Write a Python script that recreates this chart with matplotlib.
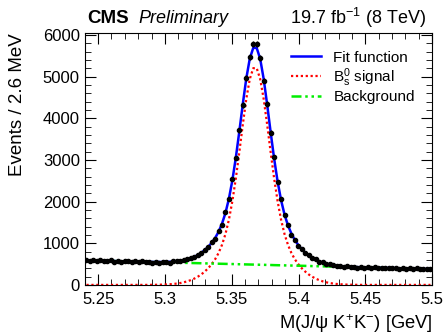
import numpy as np
import matplotlib
matplotlib.use("Agg")
import matplotlib.pyplot as plt
from matplotlib.ticker import MultipleLocator

plt.rcParams['font.family'] = ['Liberation Sans', 'DejaVu Sans']
plt.rcParams['mathtext.fontset'] = 'custom'
plt.rcParams['mathtext.rm'] = 'Liberation Sans'
plt.rcParams['mathtext.it'] = 'Liberation Sans:italic'

# binning: 100 bins of 2.6 MeV between 5.24 and 5.50 GeV
m_lo, m_hi, nbins = 5.24, 5.50, 100
centers = m_lo + (m_hi - m_lo) / nbins * (np.arange(nbins) + 0.5)

# events per bin
counts = [602, 575, 590, 571, 596, 580, 565, 588, 560, 579,
          555, 574, 583, 548, 566, 541, 569, 545, 560, 538,
          556, 534, 560, 548, 520, 571, 585, 570, 610, 628,
          655, 662, 730, 760, 850, 905, 1020, 1110, 1290, 1450,
          1740, 2060, 2540, 3050, 3710, 4320, 4980, 5470, 5790, 5780,
          5460, 4910, 4350, 3660, 3070, 2470, 2060, 1680, 1440, 1210,
          1090, 940, 870, 760, 715, 640, 612, 548, 540, 495,
          498, 480, 455, 462, 438, 449, 425, 440, 418, 431,
          410, 428, 405, 420, 402, 415, 398, 412, 395, 408,
          392, 405, 386, 399, 384, 396, 380, 392, 376, 388]

# Bs signal component
signal = [0, 0, 0, 0, 0, 0, 0, 0, 0, 0,
          0, 0, 0, 0, 0, 0, 0, 0, 1, 2,
          3, 5, 7, 11, 16, 23, 32, 45, 63, 85,
          114, 150, 195, 249, 317, 397, 494, 612, 763, 961,
          1222, 1569, 2017, 2566, 3196, 3856, 4468, 4945, 5206, 5206,
          4945, 4468, 3856, 3196, 2566, 2017, 1569, 1222, 961, 763,
          612, 494, 397, 317, 249, 195, 150, 114, 85, 63,
          45, 32, 23, 16, 11, 7, 5, 3, 2, 1,
          0, 0, 0, 0, 0, 0, 0, 0, 0, 0,
          0, 0, 0, 0, 0, 0, 0, 0, 0, 0]

# background component
background = [589, 587, 585, 583, 581, 578, 576, 574, 572, 570,
              568, 566, 564, 562, 560, 557, 555, 553, 551, 549,
              547, 545, 543, 541, 539, 536, 534, 532, 530, 528,
              526, 524, 522, 520, 518, 515, 513, 511, 509, 507,
              505, 503, 501, 499, 496, 494, 492, 490, 488, 486,
              484, 482, 480, 478, 475, 473, 471, 469, 467, 465,
              463, 461, 459, 457, 454, 452, 450, 448, 446, 444,
              442, 440, 438, 436, 433, 431, 429, 427, 425, 423,
              421, 419, 416, 414, 412, 410, 408, 406, 404, 402,
              400, 398, 395, 393, 391, 389, 387, 385, 383, 381]

counts = np.array(counts)
signal = np.array(signal)
background = np.array(background)
total = signal + background

fig = plt.figure(figsize=(4.46, 3.34), dpi=100)
ax = fig.add_axes([0.19, 0.147, 0.779, 0.754])

ax.plot(centers, total, color='#0000ff', lw=1.8, label='Fit function', zorder=3)
ax.plot(centers, signal, color='#ff0000', lw=1.6, ls=(0, (1, 1.2)),
        label=r'B$_{\mathrm{s}}^{0}$ signal', zorder=2, clip_on=False)
ax.plot(centers, background, color='#00ee00', lw=1.8, ls=(0, (4, 1.5, 1, 1.5, 1, 1.5)),
        label='Background', zorder=2)
ax.errorbar(centers, counts, yerr=np.sqrt(counts), fmt='o', color='black',
            ms=3, elinewidth=1, capsize=0, zorder=4)

ax.set_xlim(m_lo, m_hi)
ax.set_ylim(0, 6050)
ax.xaxis.set_major_locator(MultipleLocator(0.05))
ax.xaxis.set_minor_locator(MultipleLocator(0.01))
ax.yaxis.set_major_locator(MultipleLocator(1000))
ax.yaxis.set_minor_locator(MultipleLocator(200))
ax.tick_params(which='both', direction='in', top=True, right=True, labelsize=12)
ax.tick_params(which='major', length=8)
ax.tick_params(which='minor', length=4)
ax.tick_params(axis='x', pad=5)
ax.set_xticks([5.25, 5.3, 5.35, 5.4, 5.45, 5.5])
ax.set_xticklabels(['5.25', '5.3', '5.35', '5.4', '5.45', '5.5'])

ax.set_ylabel('Events / 2.6 MeV', fontsize=13.5, loc='top')
ax.yaxis.set_label_coords(-0.17, 1.0)
ax.set_xlabel('M(J/ψ K$^{+}$K$^{-}$) [GeV]', fontsize=13.2, loc='right')
ax.xaxis.set_label_coords(1.0, -0.11)

ax.legend(loc='upper right', bbox_to_anchor=(0.99, 0.985), frameon=False, fontsize=11,
          handlelength=2.0, labelspacing=0.1, borderaxespad=0.5)

fig.text(0.195, 0.945, 'CMS', fontsize=13.5, fontweight='bold', va='center')
fig.text(0.31, 0.945, 'Preliminary', fontsize=13, style='italic', va='center')
fig.text(0.955, 0.945, r'19.7 fb$^{-1}$ (8 TeV)', fontsize=13, va='center', ha='right')

plt.savefig('out.png')
